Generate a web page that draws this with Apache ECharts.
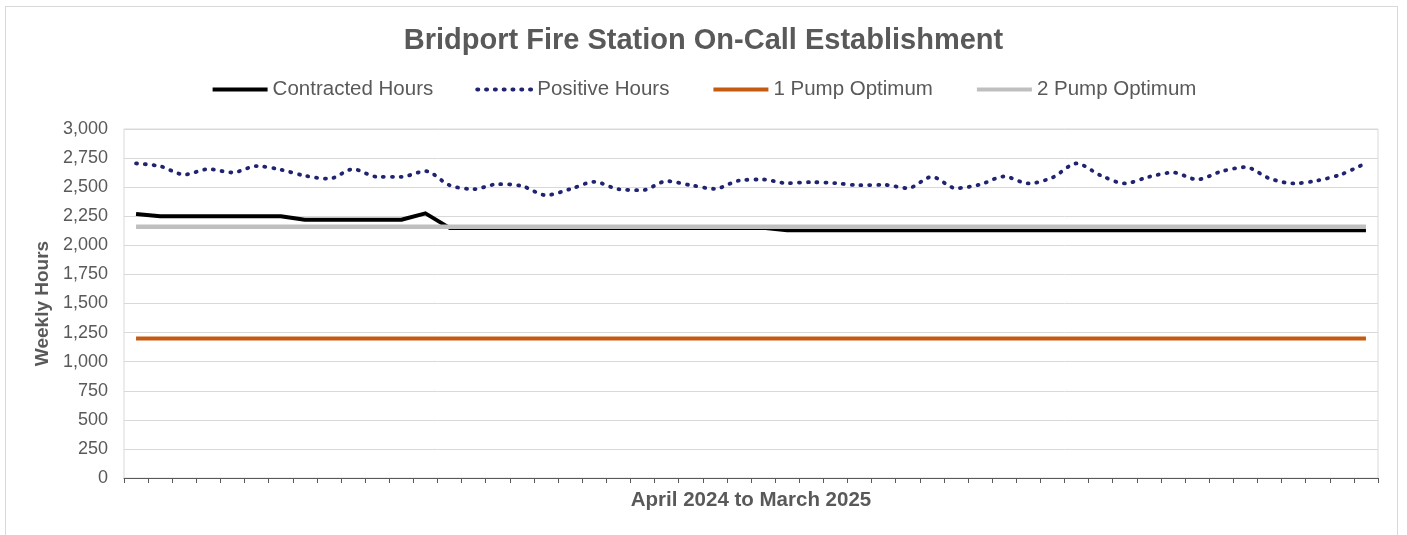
<!DOCTYPE html>
<html>
<head>
<meta charset="utf-8">
<script src="https://cdn.jsdelivr.net/npm/echarts@6/dist/echarts.min.js"></script>
<style>
html,body{margin:0;padding:0;background:#fff;}
#frame{position:absolute;left:5px;top:6px;width:1393px;height:560px;border:1px solid #d9d9d9;box-sizing:border-box;}
#chart{position:absolute;left:0;top:0;width:1407px;height:535px;}
</style>
</head>
<body>
<div id="frame"></div>
<div id="chart"></div>
<script>
const weeks = [];
for (let w = 1; w <= 52; w++) weeks.push('Week ' + w);

const contractedHours = [2270,2250,2250,2250,2250,2250,2250,2220,2220,2220,2220,2220,2275,
  2150,2150,2150,2150,2150,2150,2150,2150,2150,2150,2150,2150,2150,2150,
  2130,2130,2130,2130,2130,2130,2130,2130,2130,2130,2130,2130,2130,2130,2130,2130,2130,2130,2130,2130,2130,2130,2130,2130,2130];

const positiveHours = [2704,2680,2608,2655,2626,2681,2650,2598,2572,2655,2589,2589,2638,
  2517,2483,2526,2510,2431,2483,2546,2483,2474,2552,2517,2486,2557,2566,
  2534,2543,2534,2517,2520,2491,2589,2491,2523,2592,2532,2583,2704,2601,
  2532,2589,2626,2566,2635,2672,2575,2532,2557,2612,2707];

const onePumpOptimum = weeks.map(() => 1200);
const twoPumpOptimum = weeks.map(() => 2160);

const yTicks = {min: 0, max: 3000, interval: 250};

const chart = echarts.init(document.getElementById('chart'), null, {renderer: 'canvas'});
const font = 'Liberation Sans, Arial, sans-serif';
chart.setOption({
  animation: false,
  backgroundColor: 'transparent',
  title: {
    text: 'Bridport Fire Station On-Call Establishment',
    left: 'center', top: 21,
    textStyle: {fontFamily: font, fontSize: 29, fontWeight: 'bold', color: '#595959'}
  },
  legend: {
    top: 74, left: 'center',
    itemWidth: 55, itemHeight: 12, itemGap: 42,
    itemStyle: {opacity: 0},
    lineStyle: {width: 4},
    textStyle: {fontFamily: font, fontSize: 20.5, color: '#595959'},
    data: ['Contracted Hours','Positive Hours','1 Pump Optimum','2 Pump Optimum']
  },
  grid: {left: 124, right: 29, top: 129, bottom: 57, show: true, borderColor: '#d9d9d9', borderWidth: 1},
  xAxis: {
    type: 'category', data: weeks, boundaryGap: true,
    axisLine: {lineStyle: {color: '#595959', width: 1}},
    axisTick: {show: true, interval: 0, length: 5, lineStyle: {color: '#595959'}},
    axisLabel: {show: false},
    name: 'April 2024 to March 2025', nameLocation: 'middle', nameGap: 12,
    nameTextStyle: {fontFamily: font, fontSize: 20.5, fontWeight: 'bold', color: '#595959'}
  },
  yAxis: {
    type: 'value', min: yTicks.min, max: yTicks.max, interval: yTicks.interval,
    axisLine: {show: false}, axisTick: {show: false},
    splitLine: {lineStyle: {color: '#d9d9d9', width: 1}},
    axisLabel: {fontFamily: font, fontSize: 18, color: '#595959', margin: 16,
      formatter: v => v.toLocaleString('en-US')},
    name: 'Weekly Hours', nameLocation: 'middle', nameGap: 64, nameRotate: 90,
    nameTextStyle: {fontFamily: font, fontSize: 19, fontWeight: 'bold', color: '#595959'}
  },
  series: [
    {name: 'Contracted Hours', type: 'line', data: contractedHours, symbol: 'none',
      lineStyle: {color: '#000000', width: 4, join: 'round'}, itemStyle: {color: '#000000'}},
    {name: 'Positive Hours', type: 'line', data: positiveHours, symbol: 'none', smooth: 0.3,
      lineStyle: {color: '#1f2370', width: 3.8, type: [1, 7.8], cap: 'round'}, itemStyle: {color: '#1f2370'}},
    {name: '1 Pump Optimum', type: 'line', data: onePumpOptimum, symbol: 'none',
      lineStyle: {color: '#c55a11', width: 4}, itemStyle: {color: '#c55a11'}},
    {name: '2 Pump Optimum', type: 'line', data: twoPumpOptimum, symbol: 'none',
      lineStyle: {color: '#bfbfbf', width: 4.5}, itemStyle: {color: '#bfbfbf'}}
  ]
});
</script>
</body>
</html>
